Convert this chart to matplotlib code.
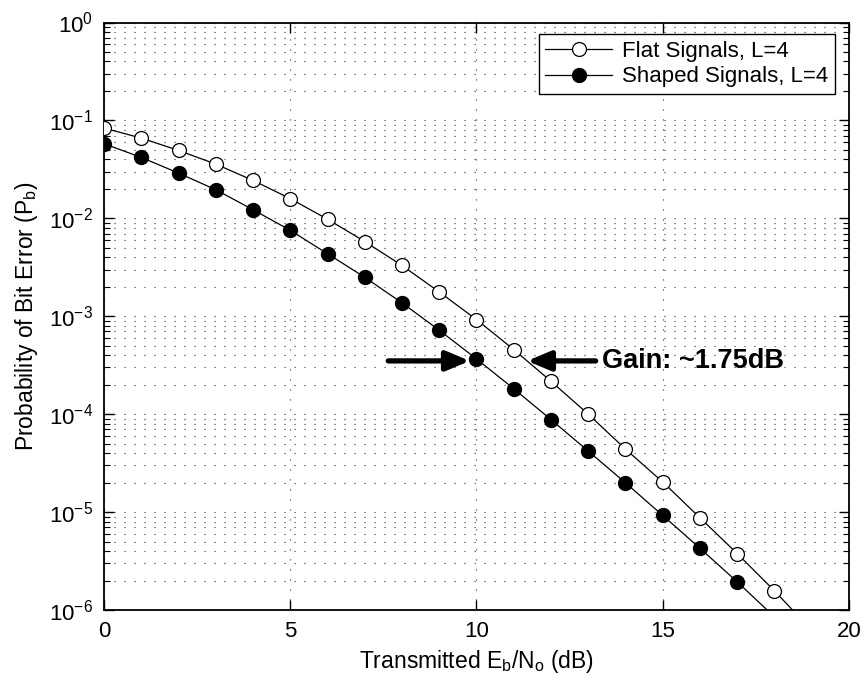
import numpy as np
import matplotlib
matplotlib.use("Agg")
import matplotlib.pyplot as plt


# =====================================
# 1. Data
# =====================================
ebno_flat = [0, 1, 2, 3, 4, 5, 6, 7, 8, 9, 10, 11, 12, 13, 14, 15, 16, 17, 18, 19]
pb_flat = [0.0835, 0.066, 0.0494, 0.0358, 0.0244, 0.0159, 0.0098, 0.0058, 0.0033,
           0.00177, 0.000925, 0.000457, 0.000217, 0.0001, 4.4e-5, 2.03e-5,
           8.75e-6, 3.77e-6, 1.57e-6, 6.2e-7]

ebno_shaped = [0, 1, 2, 3, 4, 5, 6, 7, 8, 9, 10, 11, 12, 13, 14, 15, 16, 17, 18]
pb_shaped = [0.0578, 0.0419, 0.029, 0.0196, 0.01225, 0.00755, 0.00435, 0.0025,
             0.00137, 0.00072, 0.000367, 0.000182, 8.8e-5, 4.2e-5, 1.99e-5,
             9.25e-6, 4.27e-6, 1.94e-6, 8.5e-7]

labels = ["Flat Signals, L=4", "Shaped Signals, L=4"]
x_ticks = [0, 5, 10, 15, 20]

# gain annotation (arrow tails / tips, text anchor)
gain_level = 3.5e-4
gain_left = (7.63, 9.82)
gain_right = (13.2, 11.36)
gain_text_x = 13.36
gain_text = "Gain: ~1.75dB"


# =====================================
# 2. Style (MATLAB-ish look)
# =====================================
plt.rcParams["font.family"] = ["Liberation Sans", "DejaVu Sans"]
plt.rcParams["mathtext.fontset"] = "custom"
plt.rcParams["mathtext.rm"] = "Liberation Sans"
plt.rcParams["mathtext.it"] = "Liberation Sans"
plt.rcParams["mathtext.bf"] = "Liberation Sans:bold"
plt.rcParams["font.size"] = 16

grid_style = dict(color="0.2", linestyle=(0, (1, 8)), linewidth=0.8)


def plot_ber():
    fig = plt.figure(figsize=(8.64, 6.8), dpi=100)
    ax = fig.add_axes([0.1204, 0.1029, 0.8622, 0.864])

    n_flat = sum(1 for p in pb_flat if p >= 1e-6)
    n_shaped = sum(1 for p in pb_shaped if p >= 1e-6)

    ax.semilogy(ebno_flat, pb_flat, "-o", color="k", lw=0.9,
                markersize=10, markerfacecolor="white", markeredgewidth=0.9,
                markevery=slice(0, n_flat), label=labels[0], zorder=3)
    ax.semilogy(ebno_shaped, pb_shaped, "-o", color="k", lw=0.9,
                markersize=10, markerfacecolor="black",
                markevery=slice(0, n_shaped), label=labels[1], zorder=3)

    ax.set_xlim(0, 20)
    ax.set_ylim(1e-6, 1e0)
    ax.set_xticks(x_ticks)
    ax.set_xticklabels([str(t) for t in x_ticks])

    # dotted grid, minor only on the log axis
    ax.grid(True, which="major", axis="both", **grid_style)
    ax.grid(True, which="minor", axis="y", **grid_style)
    ax.set_axisbelow(True)

    ax.tick_params(which="both", direction="in", top=True, right=True,
                   labelsize=16, pad=8)
    ax.tick_params(which="major", length=7, width=1.0)
    ax.tick_params(which="minor", length=4, width=0.8)
    ax.xaxis.set_minor_locator(matplotlib.ticker.NullLocator())
    for s in ax.spines.values():
        s.set_linewidth(1.3)

    ax.set_xlabel(r"Transmitted E$_\mathregular{b}$/N$_\mathregular{o}$ (dB)",
                  fontsize=16.5, labelpad=4)
    ax.set_ylabel(r"Probability of Bit Error (P$_\mathregular{b}$)",
                  fontsize=16.5, labelpad=6)

    leg = ax.legend(loc="upper right", bbox_to_anchor=(0.981, 0.98),
                    borderaxespad=0, fancybox=False, framealpha=1,
                    edgecolor="k", fontsize=16, handlelength=3.0,
                    handletextpad=0.45, borderpad=0.3, labelspacing=0.2)
    leg.get_frame().set_linewidth(1.0)

    # gain arrows + text
    arrow = dict(arrowstyle="-|>,head_length=1.0,head_width=0.42",
                 lw=3.8, color="k", mutation_scale=14,
                 shrinkA=0, shrinkB=0)
    ax.annotate("", xy=(gain_left[1], gain_level), xytext=(gain_left[0], gain_level),
                arrowprops=arrow, zorder=4)
    ax.annotate("", xy=(gain_right[1], gain_level), xytext=(gain_right[0], gain_level),
                arrowprops=arrow, zorder=4)
    ax.text(gain_text_x, gain_level, gain_text, fontsize=19.5, fontweight="bold",
            ha="left", va="center")

    return fig


# =====================================
# 3. Entry Point
# =====================================
if __name__ == "__main__":
    fig = plot_ber()
    fig.savefig("out.png", dpi=100)
